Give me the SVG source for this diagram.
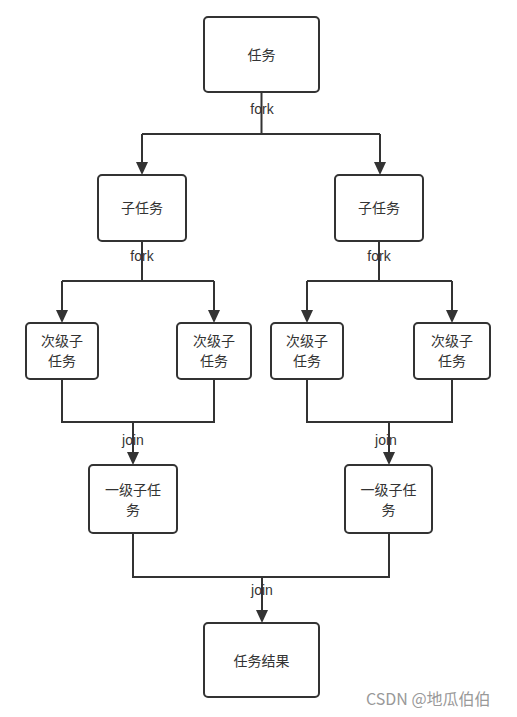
<svg xmlns="http://www.w3.org/2000/svg" width="517" height="717" viewBox="0 0 517 717">
<style>
.box{fill:#fff;stroke:#333;stroke-width:2}
.t{font-family:"Noto Sans CJK SC","Liberation Sans",sans-serif;font-size:14px;fill:#333;text-anchor:middle}
.lbl{font-family:"Liberation Sans","Noto Sans CJK SC",sans-serif;font-size:14px;fill:#333;text-anchor:middle}
.ln{fill:none;stroke:#333;stroke-width:2}
.ah{fill:#333}
</style>
<rect width="517" height="717" fill="#fff"/>
<g id="connectors">
<path class="ln" d="M261.5,92 V134"/>
<path class="ln" d="M142,134 H380"/>
<path class="ln" d="M142,134 V163"/>
<path class="ln" d="M380,134 V163"/>
<polygon class="ah" points="136,162 148,162 142,175"/>
<polygon class="ah" points="374,162 386,162 380,175"/>
<path class="ln" d="M142,241 V281 M62,281 H214 M62,281 V311 M214,281 V311"/>
<polygon class="ah" points="56,310 68,310 62,323"/>
<polygon class="ah" points="208,310 220,310 214,323"/>
<path class="ln" d="M379,241 V281 M307,281 H452 M307,281 V311 M452,281 V311"/>
<polygon class="ah" points="301,310 313,310 307,323"/>
<polygon class="ah" points="446,310 458,310 452,323"/>
<path class="ln" d="M62,379 V422 H214 V379 M133,422 V453"/>
<polygon class="ah" points="127,452 139,452 133,465"/>
<path class="ln" d="M307,379 V422 H452 V379 M389,422 V453"/>
<polygon class="ah" points="383,452 395,452 389,465"/>
<path class="ln" d="M133,533 V577 H389 V533 M262,577 V611"/>
<polygon class="ah" points="256,610 268,610 262,623"/>
<text class="lbl" x="262" y="114">fork</text>
<text class="lbl" x="142" y="261">fork</text>
<text class="lbl" x="379" y="261">fork</text>
<text class="lbl" x="133" y="445">join</text>
<text class="lbl" x="386" y="445">join</text>
<text class="lbl" x="262" y="595">join</text>
</g>
<g id="task"><rect class="box" x="204" y="17" width="115" height="75" rx="4"/><text class="t" x="261.5" y="60">任务</text></g>
<g id="sub1"><rect class="box" x="98" y="175" width="88" height="66" rx="4"/><text class="t" x="142" y="213">子任务</text></g>
<g id="sub2"><rect class="box" x="335" y="175" width="88" height="66" rx="4"/><text class="t" x="379" y="213">子任务</text></g>
<g id="ss1"><rect class="box" x="26" y="323" width="72" height="56" rx="4"/><text class="t" x="62" y="346">次级子</text><text class="t" x="62" y="366">任务</text></g>
<g id="ss2"><rect class="box" x="177" y="323" width="74" height="56" rx="4"/><text class="t" x="214" y="346">次级子</text><text class="t" x="214" y="366">任务</text></g>
<g id="ss3"><rect class="box" x="271" y="323" width="72" height="56" rx="4"/><text class="t" x="307" y="346">次级子</text><text class="t" x="307" y="366">任务</text></g>
<g id="ss4"><rect class="box" x="414" y="323" width="76" height="56" rx="4"/><text class="t" x="452" y="346">次级子</text><text class="t" x="452" y="366">任务</text></g>
<g id="l1a"><rect class="box" x="89" y="465" width="88" height="68" rx="4"/><text class="t" x="133" y="495">一级子任</text><text class="t" x="133" y="515">务</text></g>
<g id="l1b"><rect class="box" x="345" y="465" width="87" height="68" rx="4"/><text class="t" x="388.5" y="495">一级子任</text><text class="t" x="388.5" y="515">务</text></g>
<g id="result"><rect class="box" x="204" y="623" width="115" height="74" rx="4"/><text class="t" x="261.5" y="666">任务结果</text></g>
<text x="366" y="705" style="font-family:'Noto Sans CJK SC','Liberation Sans',sans-serif;font-size:16px;fill:#999">CSDN @地瓜伯伯</text>
</svg>
